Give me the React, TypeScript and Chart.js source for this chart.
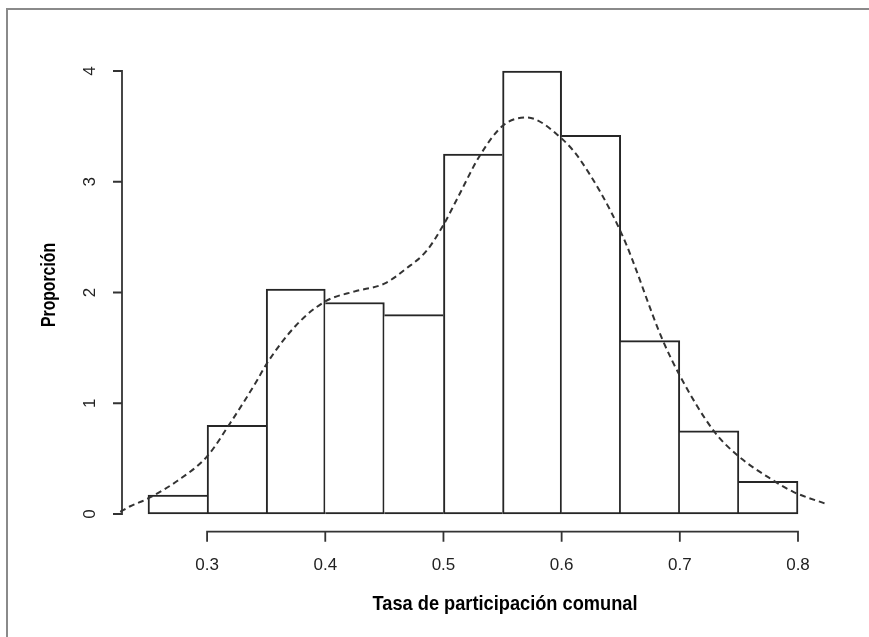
import React, { useEffect, useRef } from "react";
import { Chart, registerables } from "chart.js";

Chart.register(...registerables);

// ---- data ----
const binStarts = [0.25, 0.3, 0.35, 0.4, 0.45, 0.5, 0.55, 0.6, 0.65, 0.7, 0.75];
const binWidth = 0.05;
const densities = [0.17, 0.8, 2.03, 1.91, 1.8, 3.25, 4.0, 3.42, 1.565, 0.75, 0.295];

const kdeX = [0.2265, 0.235, 0.25, 0.275, 0.3, 0.3195, 0.3425, 0.35, 0.375, 0.4, 0.425, 0.45, 0.469, 0.486, 0.5, 0.5113, 0.531, 0.5507, 0.5705, 0.6, 0.6156, 0.6508, 0.6855, 0.701, 0.7287, 0.7487, 0.778, 0.796, 0.824];
const kdeY = [0.02, 0.07, 0.14, 0.3, 0.52, 0.82, 1.21, 1.35, 1.7, 1.92, 2.01, 2.08, 2.22, 2.38, 2.61, 2.84, 3.24, 3.51, 3.58, 3.39, 3.2, 2.53, 1.57, 1.23, 0.75, 0.53, 0.31, 0.2, 0.09];

const xTicks = [0.3, 0.4, 0.5, 0.6, 0.7, 0.8];
const xTickLabels = ["0.3", "0.4", "0.5", "0.6", "0.7", "0.8"];
const yTicks = [0, 1, 2, 3, 4];
const yTickLabels = ["0", "1", "2", "3", "4"];
const xTitle = "Tasa de participación comunal";
const yTitle = "Proporción";

const X_MIN = 0.228;
const X_MAX = 0.822;
const Y_MIN = -0.16;
const Y_MAX = 4.16;

const LINE = "#262626";
const AXIS = "#333333";
const TICK_FONT = '17px "Liberation Sans", Arial, sans-serif';
const TITLE_FONT = 'bold 21px "Liberation Sans Narrow", "Arial Narrow", "Liberation Sans", Arial, sans-serif';
const X_TITLE_WIDTH = 265;
const Y_TITLE_WIDTH = 84;

function condensedText(ctx: any, text: string, x: number, y: number, targetWidth: number) {
  const w = ctx.measureText(text).width;
  const s = Math.min(1, targetWidth / w);
  ctx.save();
  ctx.translate(x, y);
  ctx.scale(s, 1);
  ctx.fillText(text, 0, 0);
  ctx.restore();
}

const rAxesPlugin = {
  id: "rAxes",
  afterDraw(chart: any) {
    const { ctx, chartArea } = chart;
    const xs = chart.scales.x;
    const ys = chart.scales.y;
    ctx.save();
    ctx.strokeStyle = AXIS;
    ctx.lineWidth = 1.8;
    ctx.lineCap = "butt";

    // x axis
    const xb = chartArea.bottom;
    ctx.beginPath();
    ctx.moveTo(xs.getPixelForValue(xTicks[0]) - 0.9, xb);
    ctx.lineTo(xs.getPixelForValue(xTicks[xTicks.length - 1]) + 0.9, xb);
    xTicks.forEach((t) => {
      const px = xs.getPixelForValue(t);
      ctx.moveTo(px, xb);
      ctx.lineTo(px, xb + 10);
    });
    ctx.stroke();

    // y axis
    const yl = chartArea.left;
    ctx.beginPath();
    ctx.moveTo(yl, ys.getPixelForValue(yTicks[0]) + 0.9);
    ctx.lineTo(yl, ys.getPixelForValue(yTicks[yTicks.length - 1]) - 0.9);
    yTicks.forEach((t) => {
      const py = ys.getPixelForValue(t);
      ctx.moveTo(yl, py);
      ctx.lineTo(yl - 9, py);
    });
    ctx.stroke();

    // tick labels
    ctx.fillStyle = "#222222";
    ctx.font = TICK_FONT;
    ctx.textAlign = "center";
    ctx.textBaseline = "middle";
    xTicks.forEach((t, i) => {
      ctx.fillText(xTickLabels[i], xs.getPixelForValue(t), xb + 34);
    });
    yTicks.forEach((t, i) => {
      const py = ys.getPixelForValue(t);
      ctx.save();
      ctx.translate(yl - 32, py);
      ctx.rotate(-Math.PI / 2);
      ctx.fillText(yTickLabels[i], 0, 0);
      ctx.restore();
    });

    // titles (bold condensed)
    ctx.fillStyle = "#000";
    ctx.font = TITLE_FONT;
    condensedText(ctx, xTitle, 505, 604, X_TITLE_WIDTH);
    ctx.save();
    ctx.translate(49, 285);
    ctx.rotate(-Math.PI / 2);
    condensedText(ctx, yTitle, 0, 0, Y_TITLE_WIDTH);
    ctx.restore();

    ctx.restore();
  },
};

export default function App() {
  const ref = useRef<HTMLCanvasElement | null>(null);

  useEffect(() => {
    if (!ref.current) return;
    const n = densities.length;
    const bw = 2;
    const chart = new Chart(ref.current, {
      type: "bar",
      data: {
        datasets: [
          {
            type: "bar",
            data: binStarts.map((s, i) => ({ x: s + binWidth / 2, y: densities[i] })),
            backgroundColor: "#ffffff",
            borderColor: LINE,
            borderWidth: (c: any) => {
              const i = c.dataIndex;
              return {
                top: bw,
                bottom: bw,
                left: i === 0 || densities[i] >= densities[i - 1] ? bw : 0,
                right: i === n - 1 || densities[i] > densities[i + 1] ? bw : 0,
              };
            },
            borderSkipped: false,
            barPercentage: 1,
            categoryPercentage: 1,
            order: 2,
          } as any,
          {
            type: "line",
            data: kdeX.map((x, i) => ({ x, y: kdeY[i] })),
            borderColor: "#333333",
            borderWidth: 2,
            borderDash: [6, 4],
            pointRadius: 0,
            fill: false,
            cubicInterpolationMode: "monotone",
            clip: false,
            order: 1,
          } as any,
        ],
      },
      options: {
        animation: false,
        responsive: false,
        events: [],
        layout: {
          padding: { left: 122, right: 869 - 824, top: 53.3, bottom: 637 - 531.7 },
        },
        plugins: {
          legend: { display: false },
          tooltip: { enabled: false },
        },
        scales: {
          x: {
            type: "linear",
            display: false,
            min: X_MIN,
            max: X_MAX,
            offset: false,
            ticks: { stepSize: 0.1 },
          },
          y: {
            type: "linear",
            display: false,
            min: Y_MIN,
            max: Y_MAX,
          },
        },
      },
      plugins: [rAxesPlugin],
    } as any);
    return () => chart.destroy();
  }, []);

  return (
    <div style={{ position: "fixed", left: 0, top: 0, width: 869, height: 637, background: "#fff" }}>
      <div
        style={{
          position: "absolute",
          left: 6,
          top: 8,
          right: 0,
          bottom: 0,
          borderTop: "2px solid #8a8a8a",
          borderLeft: "2px solid #8a8a8a",
        }}
      />
      <canvas ref={ref} width={869} height={637} style={{ position: "absolute", left: 0, top: 0, display: "block" }} />
    </div>
  );
}
